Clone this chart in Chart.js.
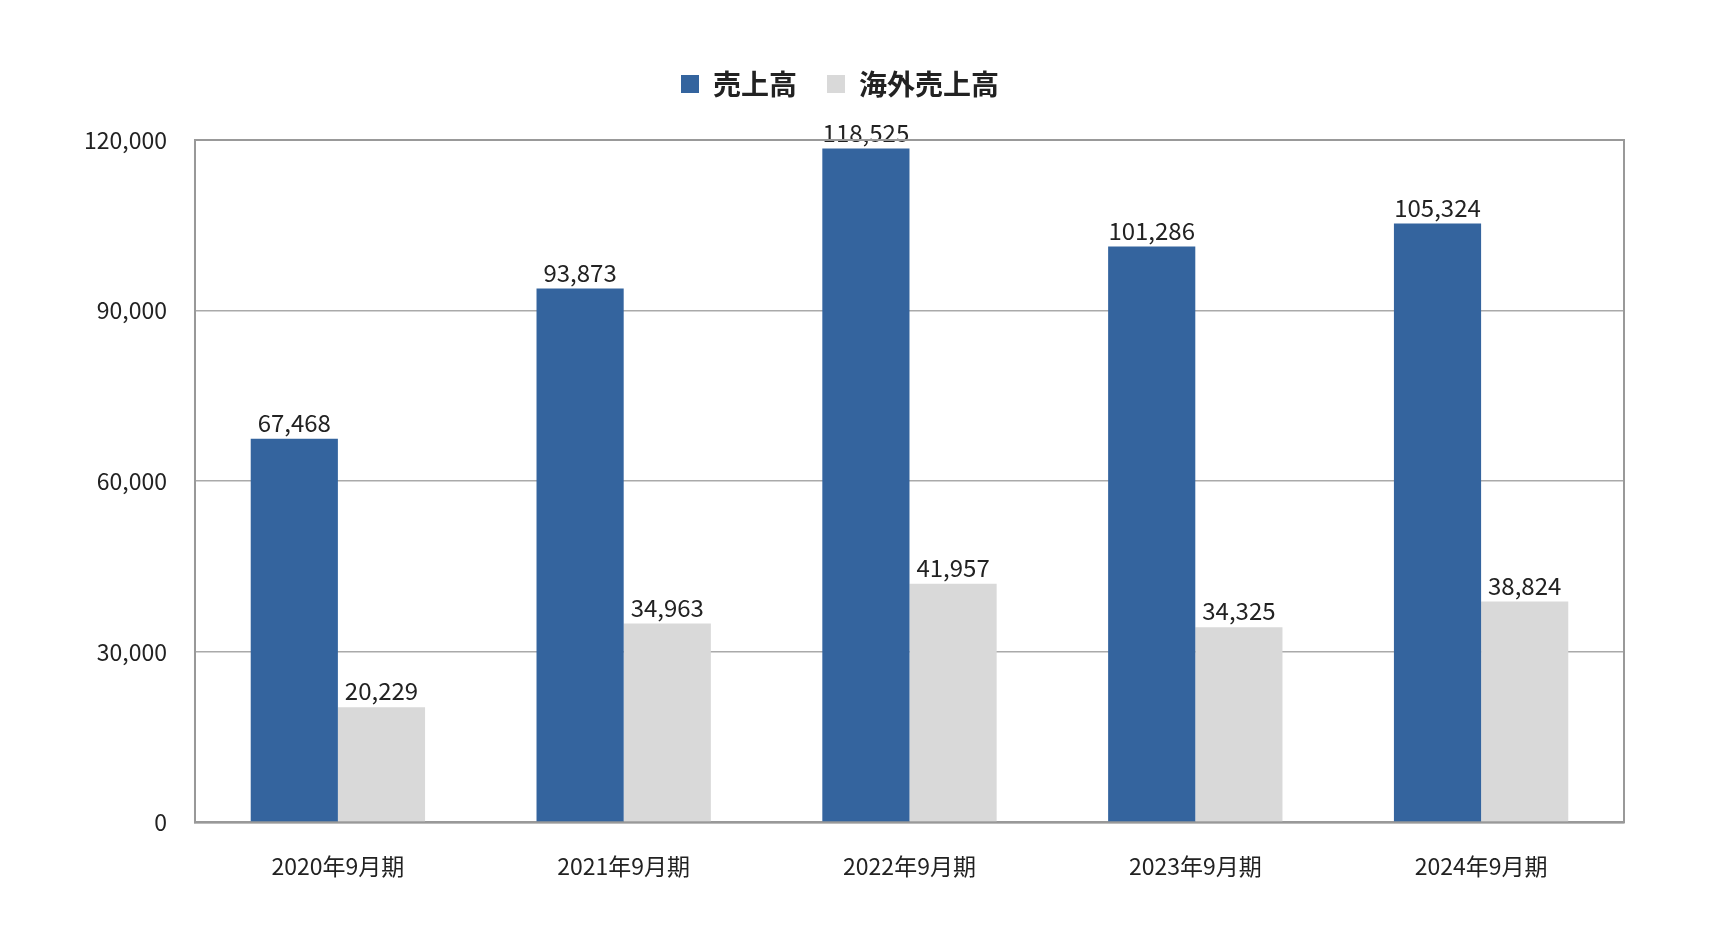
<!DOCTYPE html>
<html>
<head>
<meta charset="utf-8">
<script src="https://cdn.jsdelivr.net/npm/chart.js"></script>
<style>
  body { margin: 0; background: #fff; }
  #wrap { width: 1732px; height: 946px; }
</style>
</head>
<body>
<div id="wrap"><canvas id="salesChart"></canvas></div>
<script>
// values
const categories = ["2020年9月期", "2021年9月期", "2022年9月期", "2023年9月期", "2024年9月期"];
const salesTotal = [67468, 93873, 118525, 101286, 105324];
const salesOverseas = [20229, 34963, 41957, 34325, 38824];
const yTicks = [0, 30000, 60000, 90000, 120000];

const FONT = "'Noto Sans CJK JP', 'Noto Sans', sans-serif";

// frame around the plot area
const framePlugin = {
    id: "frame",
    afterDraw(chart) {
        const a = chart.chartArea, ctx = chart.ctx;
        ctx.save();
        ctx.strokeStyle = "#999";
        ctx.lineWidth = 2;
        ctx.strokeRect(a.left, a.top, a.right - a.left, a.bottom - a.top);
        ctx.restore();
    }
};

// extra gap under the legend
const legendGap = {
    id: "legendGap",
    beforeInit(chart) {
        const fit = chart.legend.fit;
        chart.legend.fit = function () {
            fit.bind(chart.legend)();
            this.height += 32;
        };
    }
};

// value labels on top of each bar
const valueLabels = {
    id: "valueLabels",
    afterDatasetsDraw(chart) {
        const ctx = chart.ctx;
        ctx.save();
        ctx.font = "24px " + FONT;
        ctx.fillStyle = "#222";
        ctx.textAlign = "center";
        ctx.textBaseline = "bottom";
        chart.data.datasets.forEach((ds, i) => {
            chart.getDatasetMeta(i).data.forEach((bar, j) => {
                ctx.fillText(ds.data[j].toLocaleString("en-US"), bar.x, bar.y - 4);
            });
        });
        ctx.restore();
    }
};

new Chart(document.getElementById("salesChart"), {
    type: "bar",
    data: {
        labels: categories,
        datasets: [
            { label: "売上高", data: salesTotal, backgroundColor: "#34649e" },
            { label: "海外売上高", data: salesOverseas, backgroundColor: "#d9d9d9" }
        ]
    },
    options: {
        responsive: true,
        maintainAspectRatio: false,
        animation: false,
        datasets: { bar: { categoryPercentage: 0.61, barPercentage: 1.0 } },
        layout: { padding: { left: 56, right: 108, top: 40, bottom: 44 } },
        plugins: {
            legend: {
                position: "top",
                labels: {
                    font: { family: FONT, size: 28, weight: "bold" },
                    color: "#222",
                    boxWidth: 18,
                    boxHeight: 18,
                    padding: 30
                }
            },
            tooltip: { enabled: false }
        },
        scales: {
            x: {
                grid: { display: false },
                border: { color: "#999", width: 2 },
                ticks: { font: { family: FONT, size: 23 }, color: "#222", padding: 22 }
            },
            y: {
                min: 0,
                max: 120000,
                afterBuildTicks(axis) { axis.ticks = yTicks.map(v => ({ value: v })); },
                grid: { color: "#aaa", lineWidth: 1.5, drawTicks: false },
                border: { color: "#999", width: 2 },
                ticks: {
                    font: { family: FONT, size: 23 },
                    color: "#222",
                    padding: 28,
                    callback: v => v.toLocaleString("en-US")
                }
            }
        }
    },
    plugins: [legendGap, framePlugin, valueLabels]
});
</script>
</body>
</html>
